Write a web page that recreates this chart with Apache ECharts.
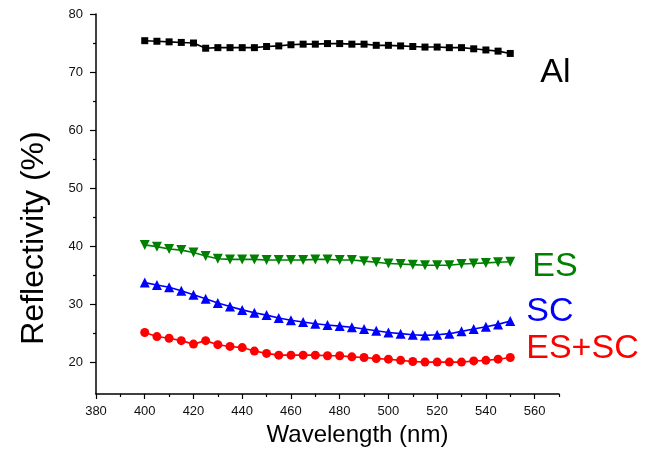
<!DOCTYPE html>
<html>
<head>
<meta charset="utf-8">
<script src="https://cdn.jsdelivr.net/npm/echarts@6/dist/echarts.min.js"></script>
<style>
html,body{margin:0;padding:0;background:#fff;}
#chart{width:661px;height:465px;}
</style>
</head>
<body>
<div id="chart"></div>
<script>
// ---- data ----
var wavelengths = [400,405,410,415,420,425,430,435,440,445,450,455,460,465,470,475,480,485,490,495,500,505,510,515,520,525,530,535,540,545,550];
var alValues   = [75.4,75.3,75.2,75.1,75.0,74.1,74.2,74.2,74.2,74.2,74.4,74.5,74.7,74.8,74.8,74.9,74.9,74.8,74.8,74.6,74.6,74.5,74.4,74.3,74.3,74.2,74.2,74.0,73.8,73.6,73.2];
var esValues   = [40.2,39.9,39.5,39.3,38.9,38.3,37.8,37.7,37.7,37.7,37.6,37.6,37.6,37.6,37.7,37.7,37.6,37.6,37.4,37.2,37.0,36.9,36.8,36.7,36.7,36.7,36.9,37.0,37.1,37.2,37.3];
var scValues   = [33.7,33.3,32.9,32.3,31.6,30.9,30.2,29.6,29.0,28.5,28.1,27.6,27.2,26.9,26.6,26.4,26.2,26.0,25.7,25.4,25.1,24.9,24.7,24.6,24.7,24.9,25.3,25.7,26.1,26.5,27.1];
var esscValues = [25.1,24.4,24.1,23.7,23.1,23.7,23.0,22.7,22.5,21.9,21.5,21.2,21.2,21.2,21.2,21.1,21.1,20.9,20.8,20.6,20.5,20.3,20.1,20.0,20.0,20.0,20.0,20.2,20.3,20.5,20.8];
var seriesNames = ['Al','ES','SC','ES+SC'];
var xTickLabels = [380,400,420,440,460,480,500,520,540,560];
var xMinorTicks = [390,410,430,450,470,490,510,530,550,570];
var yTickLabels = [20,30,40,50,60,70,80];
var yMinorTicks = [25,35,45,55,65,75];
var xTitle = 'Wavelength (nm)';
var yTitle = 'Reflectivity (%)';

function pairs(vals){ return wavelengths.map(function(w,i){ return [w, vals[i]]; }); }

var FONT = "'Liberation Sans', Arial, sans-serif";
var chart = echarts.init(document.getElementById('chart'), null, {renderer:'canvas'});

function mkSeries(name, vals, color, symbol, size, rotate, labelOffset){
  return {
    name: name, type: 'line', data: pairs(vals),
    symbol: symbol, symbolSize: size, symbolRotate: rotate || 0,
    showAllSymbol: true,
    lineStyle: {color: color, width: 1.6},
    itemStyle: {color: color, borderWidth: 0},
    endLabel: {show: true, formatter: name, color: color, fontSize: 34, fontFamily: FONT,
               offset: labelOffset, distance: 5},
    emphasis: {disabled: true},
    z: 3
  };
}

chart.setOption({
  animation: false,
  backgroundColor: '#fff',
  grid: {left: 96, top: 14, width: 463, height: 380, containLabel: false},
  xAxis: [{
    type: 'value', min: 380, max: 570,
    axisLine: {show: true, onZero: false, lineStyle: {color: '#000', width: 1.5}},
    axisTick: {show: true, length: 5, inside: false, customValues: xTickLabels, lineStyle: {color: '#000', width: 1.2}},
    minorTick: {show: false},
    axisLabel: {show: true, customValues: xTickLabels, color: '#111', fontSize: 13, fontFamily: FONT, margin: 11},
    splitLine: {show: false},
    name: xTitle, nameLocation: 'middle', nameGap: 29,
    nameTextStyle: {fontSize: 24, fontFamily: FONT, color: '#000', padding: [0,0,0,60]}
  },{
    type: 'value', min: 380, max: 570, position: 'bottom',
    axisLine: {show: false},
    axisTick: {show: true, length: 3, customValues: xMinorTicks, lineStyle: {color: '#000', width: 1.2}},
    axisLabel: {show: false}, splitLine: {show: false}
  }],
  yAxis: [{
    type: 'value', min: 14.5, max: 80,
    axisLine: {show: true, onZero: false, lineStyle: {color: '#000', width: 1.5}},
    axisTick: {show: true, length: 6, customValues: yTickLabels, lineStyle: {color: '#000', width: 1.2}},
    axisLabel: {show: true, customValues: yTickLabels, color: '#111', fontSize: 13, fontFamily: FONT, margin: 13},
    splitLine: {show: false},
    name: yTitle, nameLocation: 'middle', nameGap: 46, nameRotate: 90,
    nameTextStyle: {fontSize: 32, fontFamily: FONT, color: '#000', padding: [0,68,0,0]}
  },{
    type: 'value', min: 14.5, max: 80, position: 'left',
    axisLine: {show: false},
    axisTick: {show: true, length: 3, customValues: yMinorTicks, lineStyle: {color: '#000', width: 1.2}},
    axisLabel: {show: false},
    splitLine: {show: false}
  }],
  series: [
    mkSeries(seriesNames[0], alValues,   '#000000', 'rect',     7, 0,   [25, 19]),
    mkSeries(seriesNames[1], esValues,   '#008000', 'triangle', 10, 180, [17, 5]),
    mkSeries(seriesNames[2], scValues,   '#0000ff', 'triangle', 10, 0,   [11, -9]),
    mkSeries(seriesNames[3], esscValues, '#ff0000', 'circle',   9, 0,   [11, -9])
  ]
});
</script>
</body>
</html>
